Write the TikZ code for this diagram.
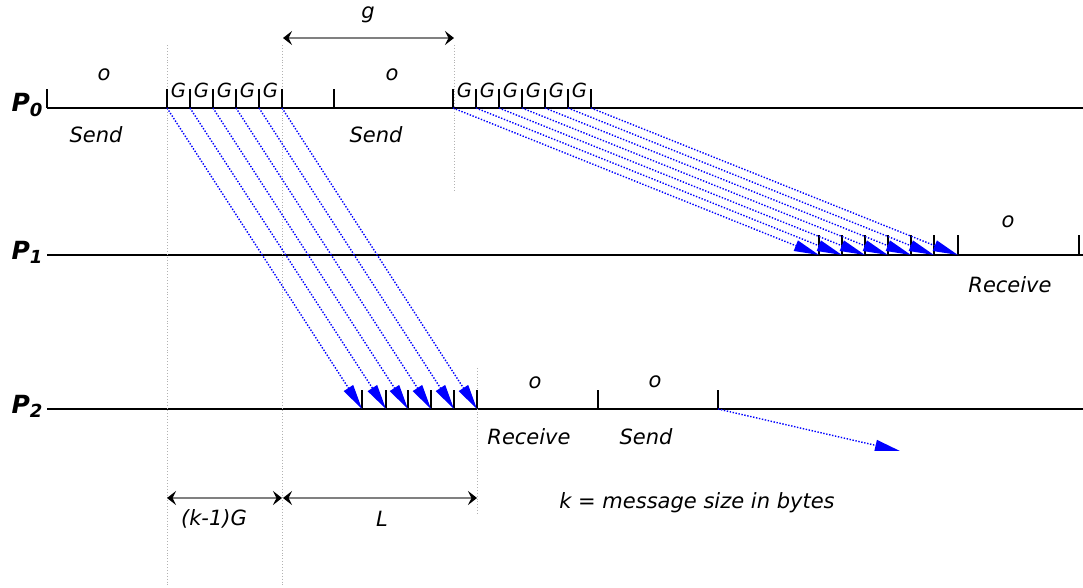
\documentclass[tikz,border=0pt]{standalone}
\usepackage{fontspec}
\setmainfont{DejaVu Sans}
\usetikzlibrary{arrows.meta}

\begin{document}
\begin{tikzpicture}[x=1pt,y=-1pt,
  lbl/.style={font=\fontsize{21}{25}\selectfont\itshape, inner sep=0pt},
  glbl/.style={font=\fontsize{19.5}{23}\selectfont\itshape, inner sep=0pt},
  proc/.style={font=\fontsize{25}{29}\selectfont\bfseries\itshape, inner sep=0pt},
  axis/.style={line width=1.6pt},
  tickmark/.style={line width=1.6pt},
  msg/.style={blue, dash pattern=on 1.4pt off 1.6pt, line width=1.4pt,
    -{Triangle[length=25pt,width=11pt]}},
  guide/.style={gray!60, dotted, line width=0.9pt},
  span/.style={gray, line width=1.4pt,
    {Stealth[black,length=9pt,width=14pt,inset=3.5pt]}-{Stealth[black,length=9pt,width=14pt,inset=3.5pt]}},
]
\useasboundingbox (0,0) rectangle (1083,587);

% time lines of the three processes
\node[proc] (p0) at (27,105) {P\raisebox{-0.3ex}{\fontsize{18}{20}\selectfont 0}};
\node[proc] (p1) at (27,252) {P\raisebox{-0.3ex}{\fontsize{18}{20}\selectfont 1}};
\node[proc] (p2) at (27,406) {P\raisebox{-0.3ex}{\fontsize{18}{20}\selectfont 2}};
\coordinate (l0a) at (47,108); \coordinate (l0b) at (1083,108);
\coordinate (l1a) at (47,255); \coordinate (l1b) at (1083,255);
\coordinate (l2a) at (47,409); \coordinate (l2b) at (1083,409);
\draw[axis] (l0a) -- (l0b);
\draw[axis] (l1a) -- (l1b);
\draw[axis] (l2a) -- (l2b);

% guide lines
\coordinate (ga1) at (167,45); \coordinate (ga2) at (167,587);
\coordinate (gb1) at (282,45); \coordinate (gb2) at (282,587);
\coordinate (gc1) at (454,45); \coordinate (gc2) at (454,192);
\coordinate (gd1) at (477,368); \coordinate (gd2) at (477,515);
\draw[guide] (ga1) -- (ga2);
\draw[guide] (gb1) -- (gb2);
\draw[guide] (gc1) -- (gc2);
\draw[guide] (gd1) -- (gd2);

% P0 ticks
\foreach \x in {47,167,190,213,236,259,282,334,453,476,499,522,545,568,591}
  \draw[tickmark] (\x,89) -- (\x,108);
% P1 ticks
\foreach \x in {819,842,865,888,911,934,958,1079}
  \draw[tickmark] (\x,235) -- (\x,255);
% P2 ticks
\foreach \x in {362,386,408,431,454,477,598,718}
  \draw[tickmark] (\x,390) -- (\x,409);

% gap labels
\foreach \x in {167,190,213,236,259}
  \node[glbl] at (\x+11.5,90) {G};
\foreach \x in {453,476,499,522,545,568}
  \node[glbl] at (\x+11.5,90) {G};

% overhead and phase labels
\node[lbl] (o1) at (104,75) {o};
\node[lbl] (o2) at (392,75) {o};
\node[lbl] (o3) at (1008,222) {o};
\node[lbl] (o4) at (535,383) {o};
\node[lbl] (o5) at (655,382) {o};
\node[lbl] (s1) at (96,135) {Send};
\node[lbl] (s2) at (376,135) {Send};
\node[lbl] (r1) at (1010,285) {Receive};
\node[lbl] (r2) at (529,437) {Receive};
\node[lbl] (s3) at (646,437) {Send};

% messages P0 -> P2
\foreach \i/\a/\b in {1/167/362,2/190/386,3/213/408,4/236/431,5/259/454,6/282/477}{
  \coordinate (ma\i) at (\a,108);
  \coordinate (mb\i) at (\b,409);
  \draw[msg] (ma\i) -- (mb\i);
}
% messages P0 -> P1
\foreach \i/\a/\b in {1/453/819,2/476/842,3/499/865,4/522/888,5/545/911,6/568/934,7/591/958}{
  \coordinate (na\i) at (\a,108);
  \coordinate (nb\i) at (\b,255);
  \draw[msg] (na\i) -- (nb\i);
}
% message leaving P2
\coordinate (q1) at (718,409);
\coordinate (q2) at (900,451);
\draw[msg] (q1) -- (q2);

% dimension arrows
\coordinate (da1) at (283,38); \coordinate (da2) at (454,38);
\draw[span] (da1) -- (da2);
\node[lbl] (g) at (368,15) {g};
\coordinate (db1) at (167,498); \coordinate (db2) at (282,498);
\draw[span] (db1) -- (db2);
\coordinate (dc1) at (283,498); \coordinate (dc2) at (477,498);
\draw[span] (dc1) -- (dc2);
\node[lbl] (kg) at (214,519) {(k-1)G};
\node[lbl] (ll) at (382,519) {L};
\node[lbl] (kk) at (697,503) {k = message size in bytes};
\end{tikzpicture}
\end{document}
